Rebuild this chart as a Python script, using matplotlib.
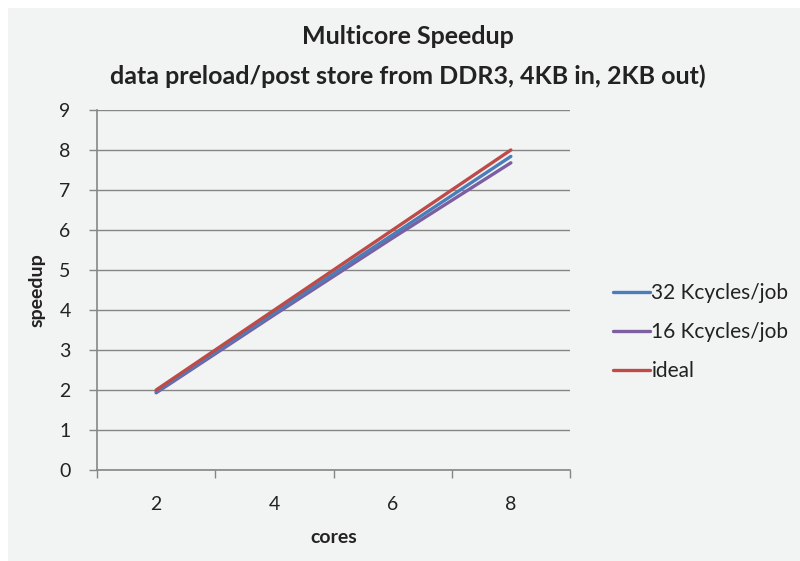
import matplotlib
matplotlib.use("Agg")
import matplotlib.pyplot as plt
from matplotlib.ticker import FixedLocator

plt.rcParams['font.family'] = ['Lato', 'DejaVu Sans']

cores = ["2", "4", "6", "8"]
k32 = [1.96, 3.93, 5.88, 7.84]
k16 = [1.93, 3.88, 5.80, 7.68]
ideal = [2, 4, 6, 8]
yticks = list(range(0, 10))

bg = "#f2f3f3"
axis_col = "#868686"
txt = "#222222"

fig = plt.figure(figsize=(8, 5.61), dpi=100)
fig.patch.set_facecolor(bg)
fig.patches.append(plt.Rectangle((0, 1 - 8/561), 1, 8/561, transform=fig.transFigure,
                                 facecolor="white", edgecolor="none", zorder=-10))
fig.patches.append(plt.Rectangle((0, 0), 8/800, 1, transform=fig.transFigure,
                                 facecolor="white", edgecolor="none", zorder=-10))

ax = fig.add_axes([97/800, 1 - 470/561, (570 - 97)/800, 360/561])
ax.set_facecolor(bg)
x = list(range(len(cores)))
ax.plot(x, k32, color="#4a7ebb", lw=2.4, label="32 Kcycles/job", solid_capstyle="round", zorder=3)
ax.plot(x, k16, color="#7d5fa0", lw=2.4, label="16 Kcycles/job", solid_capstyle="round", zorder=2)
ax.plot(x, ideal, color="#be4b48", lw=2.4, label="ideal", solid_capstyle="round", zorder=4)

ax.set_xlim(-0.5, len(cores) - 0.5)
ax.set_ylim(0, 9)
ax.set_yticks(yticks)
ax.set_xticks(x)
ax.set_xticklabels(cores)
ax.xaxis.set_minor_locator(FixedLocator([i - 0.5 for i in range(len(cores) + 1)]))
ax.tick_params(axis='x', which='major', length=0, pad=19, labelsize=14, colors=txt)
ax.tick_params(axis='x', which='minor', length=6, width=1, color=axis_col, direction='out')
ax.tick_params(axis='y', which='major', length=6, width=1, color=axis_col, labelsize=14,
               labelcolor=txt, pad=13)
ax.grid(axis='y', color=axis_col, lw=1)
ax.set_axisbelow(True)
for s in ["top", "right"]:
    ax.spines[s].set_visible(False)
for s in ["left", "bottom"]:
    ax.spines[s].set_color(axis_col)
    ax.spines[s].set_linewidth(1.2)

ax.set_xlabel("cores", fontsize=14, fontweight="bold", labelpad=11, color=txt)
ax.set_ylabel("speedup", fontsize=14, fontweight="bold", labelpad=10, color=txt)

fig.text(408/800, 1 - 36/561, "Multicore Speedup", ha="center", va="center",
         fontsize=18, fontweight="bold", color=txt)
fig.text(408/800, 1 - 76/561, "data preload/post store from DDR3, 4KB in, 2KB out)",
         ha="center", va="center", fontsize=18, fontweight="bold", color=txt)

leg = fig.legend(loc="upper left", bbox_to_anchor=(605/800, 1 - 275/561), frameon=False,
                 fontsize=15, handlelength=1.75, handletextpad=0.08, labelspacing=0.9,
                 borderaxespad=0, labelcolor=txt)

fig.savefig("out.png", dpi=100, facecolor=fig.get_facecolor())
